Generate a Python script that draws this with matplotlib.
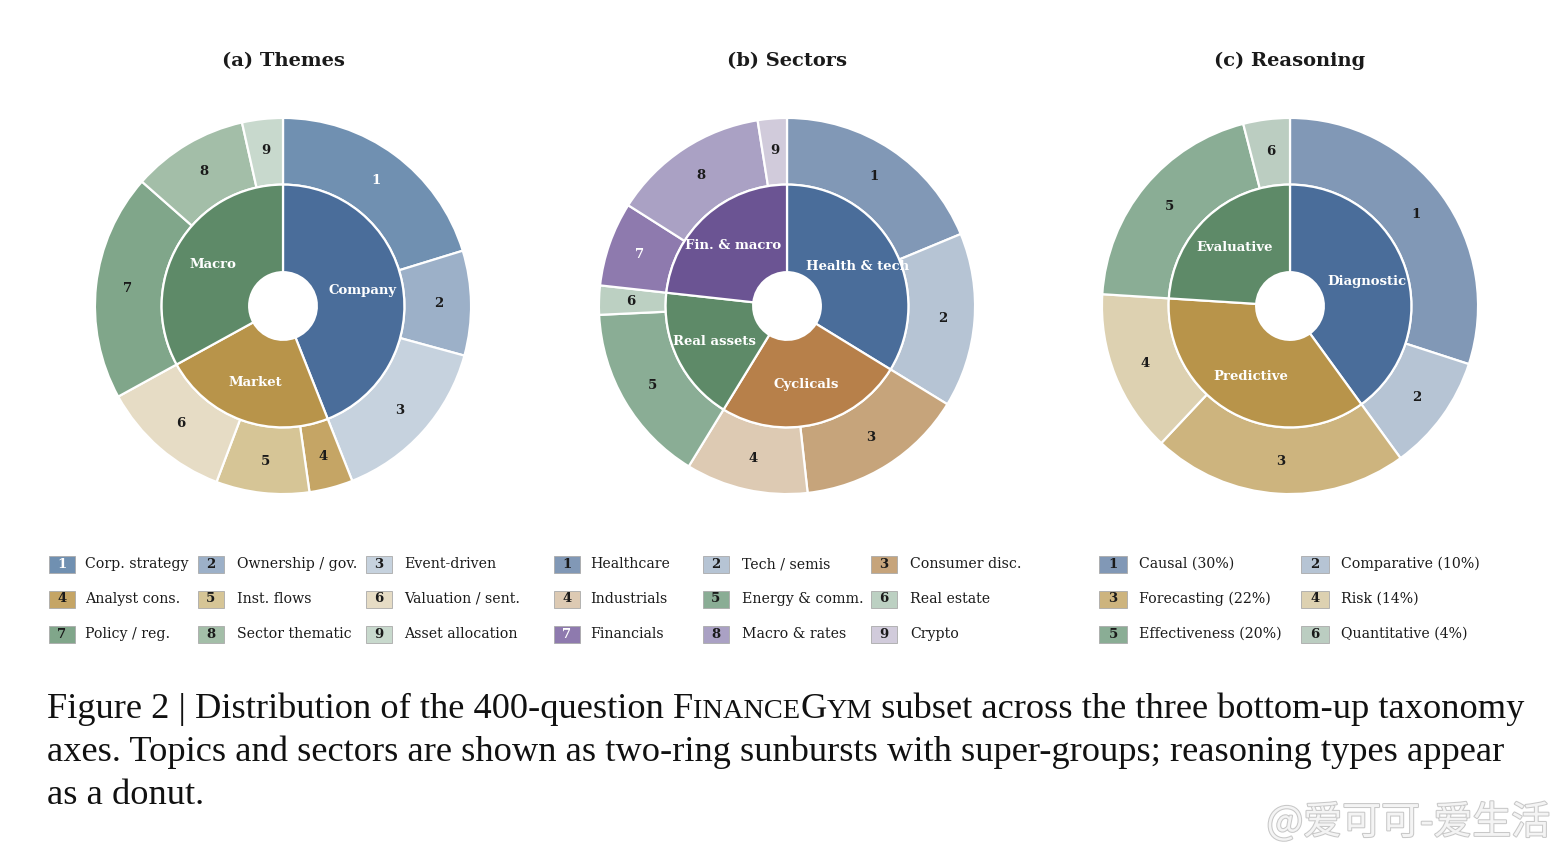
import matplotlib
matplotlib.use("Agg")
import matplotlib.pyplot as plt
from matplotlib.patches import Rectangle
import matplotlib.patheffects as pe
import numpy as np

# ---- data -------------------------------------------------------------
theme_groups = ["Company", "Market", "Macro"]
theme_group_counts = [176, 92, 132]
theme_labels = ["Corp. strategy", "Ownership / gov.", "Event-driven",
                "Analyst cons.", "Inst. flows", "Valuation / sent.",
                "Policy / reg.", "Sector thematic", "Asset allocation"]
theme_counts = [81, 36, 59, 15, 32, 45, 78, 40, 14]
theme_inner_colors = ["#4a6d9a", "#b8944a", "#5e8a68"]
theme_outer_colors = ["#7090b1", "#9cb0c8", "#c6d2de", "#c5a565", "#d6c596",
                      "#e6dcc5", "#80a68a", "#a3bea8", "#c8d9cd"]

sector_groups = ["Health & tech", "Cyclicals", "Real assets", "Fin. & macro"]
sector_group_counts = [135, 100, 72, 93]
sector_labels = ["Healthcare", "Tech / semis", "Consumer disc.",
                 "Industrials", "Energy & comm.", "Real estate",
                 "Financials", "Macro & rates", "Crypto"]
sector_counts = [75, 60, 58, 42, 62, 10, 29, 54, 10]
sector_inner_colors = ["#4a6d9a", "#b7804a", "#5e8a68", "#6b5493"]
sector_outer_colors = ["#8198b6", "#b6c4d4", "#c6a47b", "#ddcab3", "#8aad95",
                       "#bcd0c2", "#8e7aae", "#aaa1c4", "#d1cbdb"]

reason_groups = ["Diagnostic", "Predictive", "Evaluative"]
reason_group_counts = [40, 36, 24]
reason_labels = ["Causal (30%)", "Comparative (10%)", "Forecasting (22%)",
                 "Risk (14%)", "Effectiveness (20%)", "Quantitative (4%)"]
reason_counts = [30, 10, 22, 14, 20, 4]
reason_inner_colors = ["#4a6d9a", "#b8944a", "#5e8a68"]
reason_outer_colors = ["#8198b6", "#b6c4d4", "#cdb47e", "#ddd1b1", "#8aad95",
                       "#bbcdc1"]

# which outer numbers are printed in white
white_nums = {"a": [1], "b": [7], "c": []}

# ---- layout -----------------------------------------------------------
W, H = 1566, 858
fig = plt.figure(figsize=(W / 100, H / 100), dpi=100)
fig.patch.set_facecolor("white")
SERIF = "DejaVu Serif"
R = 189
R_MID = 122 / R
R_HOLE = 34 / R


def fx(px):
    return px / W


def fy(py):
    return 1 - py / H


def sunburst(cx, cy, title, inner, inner_cols, inner_names, outer, outer_cols, key):
    ax = fig.add_axes([fx(cx - R), fy(cy + R), 2 * R / W, 2 * R / H])
    wp = dict(edgecolor="white", linewidth=1.6)
    ax.pie(outer, radius=1.0, colors=outer_cols, startangle=90, counterclock=False,
           wedgeprops=dict(width=1 - R_MID, **wp))
    ax.pie(inner, radius=R_MID, colors=inner_cols, startangle=90,
           counterclock=False, wedgeprops=dict(width=R_MID - R_HOLE, **wp))
    ax.set_xlim(-1.005, 1.005)
    ax.set_ylim(-1.005, 1.005)
    ax.set_aspect("equal")
    ax.axis("off")
    # inner group labels
    tot = sum(inner)
    start = 90.0
    for name, v in zip(inner_names, inner):
        mid = np.deg2rad(start - v / tot * 180)
        ax.text(0.43 * np.cos(mid), 0.43 * np.sin(mid), name, ha="center", va="center",
                color="white", fontsize=9.5, fontweight="bold", family=SERIF)
        start -= v / tot * 360
    # outer ring numbers
    tot = sum(outer)
    start = 90.0
    for i, v in enumerate(outer):
        mid = np.deg2rad(start - v / tot * 180)
        col = "white" if (i + 1) in white_nums[key] else "#1a1a1a"
        ax.text(0.83 * np.cos(mid), 0.83 * np.sin(mid), str(i + 1), ha="center",
                va="center", color=col, fontsize=9.5, fontweight="bold", family=SERIF)
        start -= v / tot * 360
    fig.text(fx(cx), fy(61), title, ha="center", va="center", fontsize=14,
             fontweight="bold", family=SERIF, color="#1a1a1a")


sunburst(283, 306, "(a) Themes", theme_group_counts, theme_inner_colors, theme_groups,
         theme_counts, theme_outer_colors, "a")
sunburst(787, 306, "(b) Sectors", sector_group_counts, sector_inner_colors, sector_groups,
         sector_counts, sector_outer_colors, "b")
sunburst(1290, 306, "(c) Reasoning", reason_group_counts, reason_inner_colors, reason_groups,
         reason_counts, reason_outer_colors, "c")


# ---- legends ----------------------------------------------------------
def legend(labels, colors, col_x, text_x, key, box_w=26):
    rows_y = [564, 599, 634]
    ncol = len(col_x)
    for i, (lab, col) in enumerate(zip(labels, colors)):
        r, c = divmod(i, ncol)
        y = rows_y[r]
        fig.patches.append(Rectangle((fx(col_x[c]), fy(y + 8.5)), box_w / W, 17 / H,
                                     transform=fig.transFigure, facecolor=col,
                                     edgecolor="#aaaaaa", linewidth=0.6))
        num_col = "white" if (i + 1) in white_nums[key] else "#1a1a1a"
        fig.text(fx(col_x[c] + box_w / 2), fy(y), str(i + 1), ha="center", va="center",
                 fontsize=9.5, fontweight="bold", family=SERIF, color=num_col)
        fig.text(fx(text_x[c]), fy(y), lab, ha="left", va="center", fontsize=10.2,
                 family=SERIF, color="#1a1a1a")


legend(theme_labels, theme_outer_colors, [49, 198, 366], [85, 237, 404], "a")
legend(sector_labels, sector_outer_colors, [554, 703, 871], [590, 742, 910], "b")
legend(reason_labels, reason_outer_colors, [1099, 1301], [1139, 1341], "c", box_w=28)

# ---- caption ----------------------------------------------------------
CAP = "Liberation Serif"
CS = 26.2
renderer = fig.canvas.get_renderer()


def chain(segments, x0, ybase):
    x = fx(x0)
    for txt, scale in segments:
        t = fig.text(x, fy(ybase), txt, ha="left", va="baseline", fontsize=CS * scale,
                     family=CAP, color="#111111")
        bb = t.get_window_extent(renderer)
        x = bb.x1 / W


chain([("Figure 2 | Distribution of the 400-question ", 1), ("F", 1), ("INANCE", 0.78),
       ("G", 1), ("YM", 0.78), (" subset across the three bottom-up taxonomy", 1)], 47, 718)
chain([("axes. Topics and sectors are shown as two-ring sunbursts with super-groups; "
        "reasoning types appear", 1)], 47, 761)
chain([("as a donut.", 1)], 47, 804)

# watermark
fig.text(fx(1550), fy(823), "@爱可可-爱生活", ha="right", va="center", fontsize=28,
         family=["Noto Sans CJK SC", "DejaVu Sans"], color="#f4f4f4",
         path_effects=[pe.withStroke(linewidth=1.5, foreground="#c8c8c8")])

fig.savefig("out.png", dpi=100, facecolor="white")
